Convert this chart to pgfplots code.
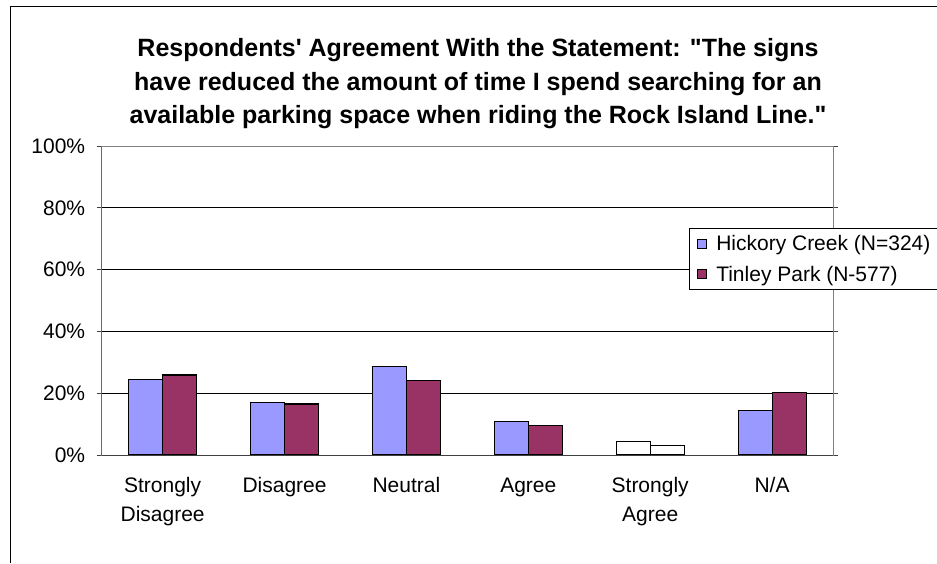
\documentclass[border=0pt]{standalone}
\usepackage{fontspec}
\setmainfont{Liberation Sans}
\usepackage{pgfplots}
\pgfplotsset{compat=1.18}
\definecolor{hickory}{HTML}{9999FF}
\definecolor{tinley}{HTML}{993366}
\definecolor{axdark}{HTML}{404040}
\newcommand\lab{\fontsize{21}{29.5}\selectfont}
\newcommand\ttl{\fontsize{25}{33.5}\selectfont\bfseries}

\begin{document}
\begin{tikzpicture}[x=1pt,y=1pt]
\path[use as bounding box] (0,0) rectangle (937,-563);
\draw[black, line width=1.3pt] (10.5,-563) -- (10.5,-6.5) -- (937,-6.5);
\node[align=center, font=\ttl] at (478,-84) {Respondents\textquotesingle{} Agreement With the Statement: \textquotedbl The signs\\have reduced the amount of time I spend searching for an\\available parking space when riding the Rock Island Line.\textquotedbl};
\begin{axis}[
    at={(101.7pt,-455pt)}, anchor=south west,
    scale only axis, width=731.3pt, height=309pt,
    xmin=-0.5, xmax=5.5, ymin=0, ymax=100,
    ybar, bar width=34pt,
    axis line style={color=gray, line width=1pt},
    tick align=outside, major tick length=5pt,
    tick style={axdark, line width=1pt},
    ytick={0,20,40,60,80,100},
    yticklabels={0\%,20\%,40\%,60\%,80\%,100\%},
    yticklabel style={font=\lab, xshift=-8pt},
    extra y ticks={20,40,60,80}, extra y tick labels={},
    extra y tick style={grid=major, major tick length=0pt},
    major grid style={black, line width=0.9pt},
    xtick={0,1,2,3,4,5},
    xticklabels={{\strut Strongly\\Disagree},\strut Disagree,\strut Neutral,\strut Agree,{\strut Strongly\\Agree},\strut N/A},
    xticklabel style={font=\lab, align=center, anchor=north, yshift=-8pt},
    x tick style={draw=none},
    extra x ticks={-0.5,0.5,1.5,2.5,3.5,4.5,5.5}, extra x tick labels={},
    extra x tick style={tick style={axdark, line width=1pt}, major tick length=5pt},
    legend style={at={(0.803,0.735)}, anchor=north west, draw=black, line width=0.9pt,
        font=\lab, row sep=10pt, column sep=7pt, inner xsep=8pt, inner ysep=5pt},
    legend cell align=left,
    legend image code/.code={\draw[#1, draw=black, line width=0.9pt] (0pt,-4.5pt) rectangle (9pt,4.5pt);},
]
\addplot[fill=hickory, draw=black, line width=1.1pt, bar shift=-17pt] coordinates {
    (0,24.5) (1,17.0) (2,28.5) (3,10.7) (5,14.5)
};
\addlegendentry{Hickory Creek (N=324)}
\addplot[fill=tinley, draw=black, line width=1.1pt, bar shift=17pt] coordinates {
    (0,25.9) (1,16.5) (2,24.0) (3,9.5) (5,20.2)
};
\addlegendentry{Tinley Park (N-577)}
\addplot[fill=white, draw=black, line width=1.1pt, bar shift=-17pt, forget plot] coordinates {(4,4.5)};
\addplot[fill=white, draw=black, line width=1.1pt, bar shift=17pt, forget plot] coordinates {(4,3.1)};
\draw[axdark, line width=1pt] (axis cs:-0.5,100) -- (axis cs:-0.5,0) -- (axis cs:5.5,0);
\end{axis}
\end{tikzpicture}
\end{document}
